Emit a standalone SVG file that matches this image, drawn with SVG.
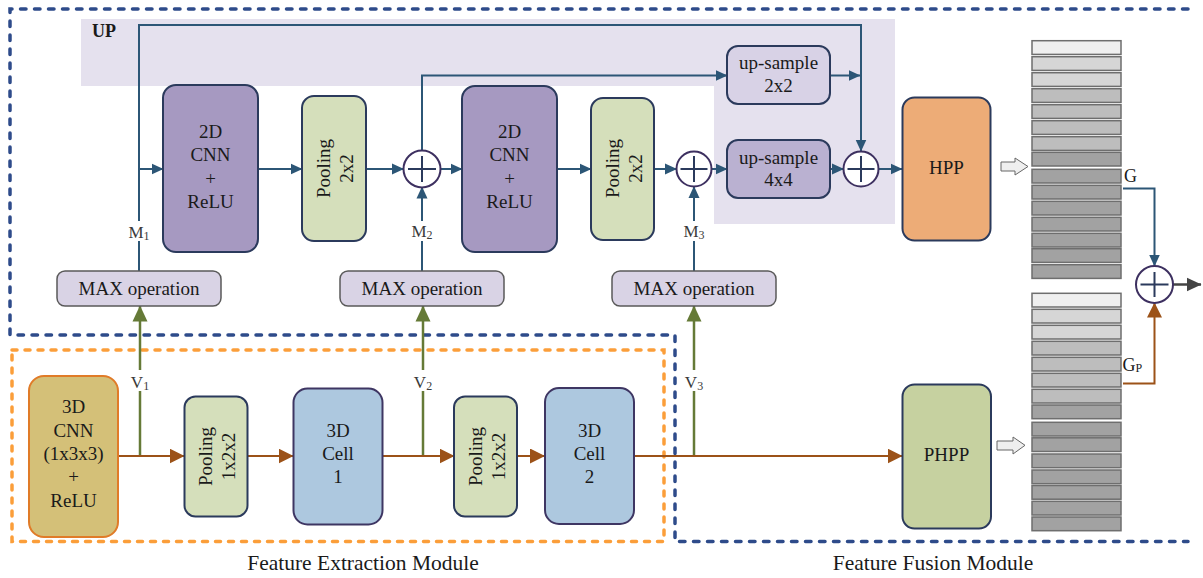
<svg xmlns="http://www.w3.org/2000/svg" width="1203" height="578" viewBox="0 0 1203 578">
<defs>
<style>
text{font-family:"Liberation Serif","Times New Roman",serif;fill:#1a1a1a;}
.t19{font-size:19px;text-anchor:middle;}
.lbl{font-size:17px;text-anchor:middle;fill:#3a3a3a;}
.box{stroke:#2b3a5c;stroke-width:2;}
.cnn2d{fill:#a699c1;}
.pool{fill:#d5dfbb;}
.up2{fill:#d8d2e6;}
.up4{fill:#bab1d1;}
.max{fill:#d9d3e5;stroke:#5a5a5a;stroke-width:1.5;}
.cell{fill:#adc8df;stroke:#3e3663;stroke-width:2;}
.circ{fill:#fff;stroke:#3d3060;stroke-width:2;}
.plus{stroke:#2b3a5c;stroke-width:2;fill:none;}
.cb{fill:none;stroke:#2c5676;stroke-width:2;}
.cbr{fill:none;stroke:#9c5218;stroke-width:2;}
.cg{fill:none;stroke:#657a37;stroke-width:2.5;}
.ck{fill:none;stroke:#444;stroke-width:2.5;}
.row{stroke:#6e6e6e;stroke-width:1.5;}
.r1{fill:#efefef;}.r2{fill:#d6d6d6;}.r3{fill:#bdbdbd;}.r4{fill:#a2a2a2;}
.hollow{fill:#efefef;stroke:#666;stroke-width:1;}
</style>
<marker id="ab" viewBox="0 0 12 12" markerWidth="12" markerHeight="12" refX="11.5" refY="6" orient="auto" markerUnits="userSpaceOnUse"><path d="M0,0.5 L12,6 L0,11.5 z" fill="#2c5676"/></marker>
<marker id="abr" viewBox="0 0 15 15" markerWidth="15" markerHeight="15" refX="14.5" refY="7.5" orient="auto" markerUnits="userSpaceOnUse"><path d="M0,0 L15,7.5 L0,15 z" fill="#9c5218"/></marker>
<marker id="ag" viewBox="0 0 16 16" markerWidth="16" markerHeight="16" refX="15.5" refY="8" orient="auto" markerUnits="userSpaceOnUse"><path d="M0,0.5 L16,8 L0,15.5 z" fill="#657a37"/></marker>
<marker id="ak" viewBox="0 0 15 15" markerWidth="15" markerHeight="15" refX="14.5" refY="7.5" orient="auto" markerUnits="userSpaceOnUse"><path d="M0,0.5 L15,7.5 L0,14.5 z" fill="#444"/></marker>
</defs>

<rect width="1203" height="578" fill="#fff"/>

<!-- UP shaded region -->
<polygon points="81,19 895,19 895,224 714,224 714,86 81,86" fill="#e5e1ee"/>
<text x="92" y="37" style="font-size:18px;font-weight:bold">UP</text>

<!-- module borders -->
<path d="M1188,9 H10 V335 H675 V541.5 H1188" fill="none" stroke="#2e4b8a" stroke-width="3.5" stroke-linecap="round" stroke-dasharray="5.5 8.5"/>
<rect x="12" y="350" width="652" height="191.5" fill="none" stroke="#fb9e3a" stroke-width="3.5" stroke-linecap="round" stroke-dasharray="5 8"/>

<!-- connectors -->
<g id="connectors">
<path class="cb" d="M139,271 V25 H861 V151" marker-end="url(#ab)"/>
<path class="cb" d="M139,169 H163" marker-end="url(#ab)"/>
<path class="cb" d="M258,169 H302" marker-end="url(#ab)"/>
<path class="cb" d="M366,169 H403.5" marker-end="url(#ab)"/>
<path class="cb" d="M440.5,169 H462" marker-end="url(#ab)"/>
<path class="cb" d="M557,169 H591" marker-end="url(#ab)"/>
<path class="cb" d="M654,169 H676.5" marker-end="url(#ab)"/>
<path class="cb" d="M711.5,169 H727" marker-end="url(#ab)"/>
<path class="cb" d="M830,169 H843.5" marker-end="url(#ab)"/>
<path class="cb" d="M878.5,169 H902" marker-end="url(#ab)"/>
<path class="cb" d="M422,151 V75.5 H727" marker-end="url(#ab)"/>
<path class="cb" d="M830,75.5 H860" marker-end="url(#ab)"/>
<path class="cb" d="M422,271 V187" marker-end="url(#ab)"/>
<path class="cb" d="M694,271 V186.5" marker-end="url(#ab)"/>
<path class="cg" d="M140,456 V306" marker-end="url(#ag)"/>
<path class="cg" d="M423,456 V306" marker-end="url(#ag)"/>
<path class="cg" d="M694,456 V306" marker-end="url(#ag)"/>
<path class="cbr" d="M118,456 H184" marker-end="url(#abr)"/>
<path class="cbr" d="M248,456 H293" marker-end="url(#abr)"/>
<path class="cbr" d="M382,456 H454" marker-end="url(#abr)"/>
<path class="cbr" d="M517,456 H544.5" marker-end="url(#abr)"/>
<path class="cbr" d="M634,456 H902" marker-end="url(#abr)"/>
<path class="cb" d="M1123,188.5 H1154.5 V266" marker-end="url(#ab)"/>
<path class="cbr" d="M1123,383.5 H1154.5 V303" marker-end="url(#abr)"/>
<path class="ck" d="M1173,284.5 H1201" marker-end="url(#ak)"/>
<path class="hollow" d="M1001,162 H1015 V158 L1028,166.5 L1015,175 V171 H1001 Z"/>
<path class="hollow" d="M997,441 H1013 V437 L1025,445.3 L1013,454 V450 H997 Z"/>
</g>

<!-- labels on lines -->
<g id="line-labels">
<rect x="127" y="221" width="24" height="20" fill="#fff"/>
<text class="lbl" x="139" y="238">M<tspan font-size="12" dy="2">1</tspan></text>
<rect x="410" y="221" width="24" height="20" fill="#fff"/>
<text class="lbl" x="422" y="237">M<tspan font-size="12" dy="2">2</tspan></text>
<rect x="682" y="221" width="24" height="20" fill="#fff"/>
<text class="lbl" x="694" y="237">M<tspan font-size="12" dy="2">3</tspan></text>
<rect x="128" y="370" width="24" height="21" fill="#fff"/>
<text class="lbl" x="140" y="388">V<tspan font-size="12" dy="2">1</tspan></text>
<rect x="411" y="370" width="24" height="21" fill="#fff"/>
<text class="lbl" x="423" y="388">V<tspan font-size="12" dy="2">2</tspan></text>
<rect x="682" y="370" width="24" height="21" fill="#fff"/>
<text class="lbl" x="694" y="388">V<tspan font-size="12" dy="2">3</tspan></text>
<text x="1124" y="182" style="font-size:18px">G</text>
<text x="1122.5" y="371" style="font-size:18px">G<tspan font-size="12" dy="1">P</tspan></text>
</g>

<!-- top row nodes -->
<g id="cnn2d-1"><rect class="box cnn2d" x="163" y="85" width="95" height="167" rx="13"/>
<text class="t19" x="210.5" y="138.3">2D</text><text class="t19" x="210.5" y="161.4">CNN</text><text class="t19" x="210.5" y="184.5">+</text><text class="t19" x="210.5" y="207.7">ReLU</text></g>
<g id="pool2d-1"><rect class="box pool" x="302" y="96" width="64" height="145" rx="12"/>
<g transform="translate(334,168.5) rotate(-90)"><text class="t19" x="0" y="-4">Pooling</text><text class="t19" x="0" y="19">2x2</text></g></g>
<g id="sum-1"><circle class="circ" cx="422" cy="169" r="18.5"/><path class="plus" d="M408,169 H436 M422,156 V182"/></g>
<g id="cnn2d-2"><rect class="box cnn2d" x="462" y="86" width="95" height="166" rx="13"/>
<text class="t19" x="509.5" y="138.3">2D</text><text class="t19" x="509.5" y="161.4">CNN</text><text class="t19" x="509.5" y="184.5">+</text><text class="t19" x="509.5" y="207.7">ReLU</text></g>
<g id="pool2d-2"><rect class="box pool" x="591" y="98" width="63" height="142" rx="12"/>
<g transform="translate(622.5,168.5) rotate(-90)"><text class="t19" x="0" y="-4">Pooling</text><text class="t19" x="0" y="19">2x2</text></g></g>
<g id="sum-2"><circle class="circ" cx="694" cy="169" r="17.5"/><path class="plus" d="M680.5,169 H707.5 M694,156 V182"/></g>
<g id="upsample-2"><rect class="box up2" x="727" y="46" width="103" height="58" rx="11"/>
<text class="t19" x="778.5" y="68.5">up-sample</text><text class="t19" x="778.5" y="92">2x2</text></g>
<g id="upsample-4"><rect class="box up4" x="727" y="140" width="103" height="58" rx="11"/>
<text class="t19" x="778.5" y="163.5">up-sample</text><text class="t19" x="778.5" y="186">4x4</text></g>
<g id="sum-3"><circle class="circ" cx="861" cy="169" r="17.5"/><path class="plus" d="M847.5,169 H874.5 M861,156 V182"/></g>
<g id="hpp"><rect class="box" fill="#edac77" x="902.5" y="97.5" width="88" height="143" rx="12"/>
<text class="t19" x="946.5" y="174">HPP</text></g>

<!-- MAX operation nodes -->
<g id="max-1"><rect class="max" x="57" y="271" width="164" height="35" rx="8"/><text class="t19" x="139" y="295">MAX operation</text></g>
<g id="max-2"><rect class="max" x="340" y="271" width="164" height="35" rx="8"/><text class="t19" x="422" y="295">MAX operation</text></g>
<g id="max-3"><rect class="max" x="612" y="271" width="164" height="35" rx="8"/><text class="t19" x="694" y="295">MAX operation</text></g>

<!-- bottom row nodes -->
<g id="cnn3d"><rect x="29" y="376" width="89" height="161" rx="15" fill="#d4c078" stroke="#e07b28" stroke-width="2"/>
<text class="t19" x="73.5" y="413.3">3D</text><text class="t19" x="73.5" y="436.7">CNN</text><text class="t19" x="73.5" y="460">(1x3x3)</text><text class="t19" x="73.5" y="483.4">+</text><text class="t19" x="73.5" y="506.7">ReLU</text></g>
<g id="pool3d-1"><rect class="box pool" x="184.5" y="396.5" width="63" height="120" rx="11"/>
<g transform="translate(216,456.5) rotate(-90)"><text class="t19" x="0" y="-4">Pooling</text><text class="t19" x="0" y="19">1x2x2</text></g></g>
<g id="cell-1"><rect class="cell" x="293.5" y="388.5" width="89" height="136" rx="14"/>
<text class="t19" x="338" y="437.3">3D</text><text class="t19" x="338" y="460.3">Cell</text><text class="t19" x="338" y="483.3">1</text></g>
<g id="pool3d-2"><rect class="box pool" x="454" y="396.5" width="63" height="120" rx="11"/>
<g transform="translate(485.5,456.5) rotate(-90)"><text class="t19" x="0" y="-4">Pooling</text><text class="t19" x="0" y="19">1x2x2</text></g></g>
<g id="cell-2"><rect class="cell" x="545" y="388" width="89" height="136" rx="14"/>
<text class="t19" x="589.5" y="436.7">3D</text><text class="t19" x="589.5" y="460">Cell</text><text class="t19" x="589.5" y="483.3">2</text></g>
<g id="phpp"><rect class="box" fill="#c6d1a0" x="902.5" y="384.5" width="88.5" height="144" rx="12"/>
<text class="t19" x="946.5" y="461">PHPP</text></g>

<!-- feature stacks -->
<g id="stack-g">
<rect class="row r1" x="1032" y="40.7" width="89" height="13.7"/>
<rect class="row r2" x="1032" y="56.7" width="89" height="13.7"/>
<rect class="row r2" x="1032" y="72.7" width="89" height="13.7"/>
<rect class="row r3" x="1032" y="88.7" width="89" height="13.7"/>
<rect class="row r3" x="1032" y="104.7" width="89" height="13.7"/>
<rect class="row r3" x="1032" y="120.7" width="89" height="13.7"/>
<rect class="row r3" x="1032" y="136.7" width="89" height="13.7"/>
<rect class="row r4" x="1032" y="152.3" width="89" height="13.7"/>
<rect class="row r4" x="1032" y="169.3" width="89" height="13.7"/>
<rect class="row r4" x="1032" y="185.3" width="89" height="13.7"/>
<rect class="row r4" x="1032" y="201.3" width="89" height="13.7"/>
<rect class="row r4" x="1032" y="217.3" width="89" height="13.7"/>
<rect class="row r4" x="1032" y="233.3" width="89" height="13.7"/>
<rect class="row r4" x="1032" y="248.7" width="89" height="13.7"/>
<rect class="row r4" x="1032" y="264.7" width="89" height="13.7"/>
</g>
<g id="stack-gp">
<rect class="row r1" x="1032" y="293.3" width="89" height="13.7"/>
<rect class="row r2" x="1032" y="309.3" width="89" height="13.7"/>
<rect class="row r2" x="1032" y="325.3" width="89" height="13.7"/>
<rect class="row r3" x="1032" y="341.3" width="89" height="13.7"/>
<rect class="row r3" x="1032" y="357.3" width="89" height="13.7"/>
<rect class="row r3" x="1032" y="373.3" width="89" height="13.7"/>
<rect class="row r3" x="1032" y="389.3" width="89" height="13.7"/>
<rect class="row r4" x="1032" y="405" width="89" height="13.7"/>
<rect class="row r4" x="1032" y="422.3" width="89" height="13.7"/>
<rect class="row r4" x="1032" y="437.8" width="89" height="13.7"/>
<rect class="row r4" x="1032" y="454" width="89" height="13.7"/>
<rect class="row r4" x="1032" y="470" width="89" height="13.7"/>
<rect class="row r4" x="1032" y="485.5" width="89" height="13.7"/>
<rect class="row r4" x="1032" y="501.3" width="89" height="13.7"/>
<rect class="row r4" x="1032" y="517" width="89" height="13.7"/>
</g>
<g id="sum-out"><circle class="circ" cx="1154.5" cy="284.5" r="18.5"/><path class="plus" d="M1140.5,284.5 H1168.5 M1154.5,272 V297"/></g>

<!-- module titles -->
<text x="363" y="570" style="font-size:21.5px;text-anchor:middle">Feature Extraction Module</text>
<text x="933" y="570" style="font-size:21.5px;text-anchor:middle">Feature Fusion Module</text>
</svg>
